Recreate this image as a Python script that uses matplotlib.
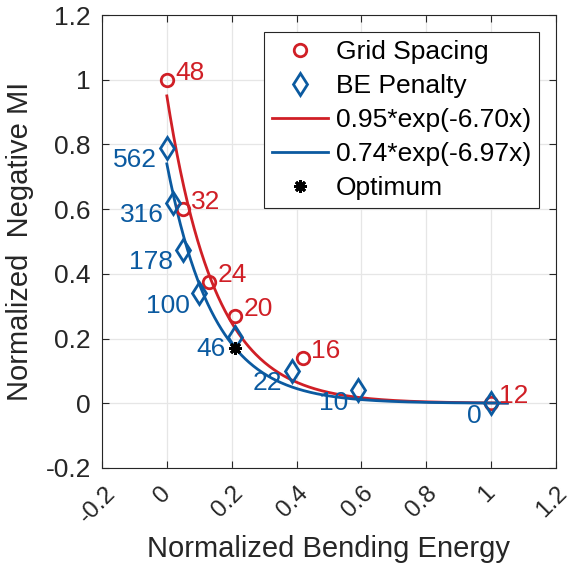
import numpy as np
import matplotlib
matplotlib.use("Agg")
import matplotlib.pyplot as plt
from matplotlib.transforms import ScaledTranslation

plt.rcParams['font.family'] = ['Liberation Sans', 'DejaVu Sans']

# grid spacing results
grid_x = [0.0, 0.05, 0.13, 0.21, 0.42, 1.0]
grid_y = [1.0, 0.60, 0.375, 0.27, 0.14, 0.0]
grid_lbl = ['48', '32', '24', '20', '16', '12']

# bending energy penalty results
be_x = [0.0, 0.02, 0.05, 0.10, 0.21, 0.385, 0.59, 1.0]
be_y = [0.79, 0.62, 0.475, 0.34, 0.205, 0.10, 0.04, 0.0]
be_lbl = ['562', '316', '178', '100', '46', '22', '10', '0']

opt_x = [0.21]
opt_y = [0.17]

# exponential fits a*exp(b*x)
red_a, red_b = 0.95, -6.70
blue_a, blue_b = 0.74, -6.97

red = '#D01F26'
blue = '#0B5AA0'
dark = '#262626'

fig = plt.figure(figsize=(5.74, 5.75), dpi=100)
ax = fig.add_axes([0.1777, 0.1861, 0.7909, 0.7878])

xs = np.linspace(0, 1.05, 300)
ax.plot(grid_x, grid_y, 'o', mfc='none', mec=red, mew=2, ms=9, ls='none', label='Grid Spacing', zorder=4)
ax.plot(be_x, be_y, 'd', mfc='none', mec=blue, mew=2, ms=11.5, ls='none', label='BE Penalty', zorder=4)
ax.plot(xs, red_a * np.exp(red_b * xs), color=red, lw=2, label='0.95*exp(-6.70x)', zorder=3)
ax.plot(xs, blue_a * np.exp(blue_b * xs), color=blue, lw=2, label='0.74*exp(-6.97x)', zorder=3)
ax.plot(opt_x, opt_y, marker=(8, 2, 0), color='k', mew=2, ms=9, ls='none', label='Optimum', zorder=5)

for x, y, s in zip(grid_x, grid_y, grid_lbl):
    ax.annotate(s, (x, y), xytext=(6, 5), textcoords='offset points',
                ha='left', va='center', color=red, fontsize=19)
for x, y, s in zip(be_x, be_y, be_lbl):
    ax.annotate(s, (x, y), xytext=(-7, -9), textcoords='offset points',
                ha='right', va='center', color=blue, fontsize=19)

ax.set_xlim(-0.2, 1.2)
ax.set_ylim(-0.2, 1.2)
ticks = np.arange(-0.2, 1.21, 0.2)
ax.set_xticks(ticks)
ax.set_yticks(ticks)
tick_lbls = ['-0.2', '0', '0.2', '0.4', '0.6', '0.8', '1', '1.2']
ax.set_xticklabels(tick_lbls, rotation=45, ha='center', va='top')
ax.set_yticklabels(tick_lbls)
ax.tick_params(direction='in', top=True, right=True, labelsize=19, colors=dark,
               length=5, width=0.8, pad=8)
ax.tick_params(axis='x', pad=10, labelsize=17.5)
# nudge rotated x labels a little left
shift = ScaledTranslation(-3 / 72, 0, fig.dpi_scale_trans)
for lbl in ax.get_xticklabels():
    lbl.set_transform(lbl.get_transform() + shift)
ax.grid(True, color='#E6E6E6', lw=0.9)
ax.set_axisbelow(True)
for sp in ax.spines.values():
    sp.set_color(dark)
    sp.set_linewidth(0.8)

ax.set_xlabel('Normalized Bending Energy', fontsize=21, color=dark, labelpad=6)
ax.set_ylabel('Normalized  Negative MI', fontsize=21, color=dark, labelpad=8)

leg = ax.legend(loc='upper right', fontsize=19, fancybox=False, framealpha=1,
                edgecolor=dark, handlelength=2.1, labelspacing=0.38,
                borderaxespad=0.65, handletextpad=0.3, borderpad=0.3)
leg.get_frame().set_linewidth(0.8)
for t in leg.get_texts():
    t.set_color('k')

fig.savefig('out.png', dpi=100)
